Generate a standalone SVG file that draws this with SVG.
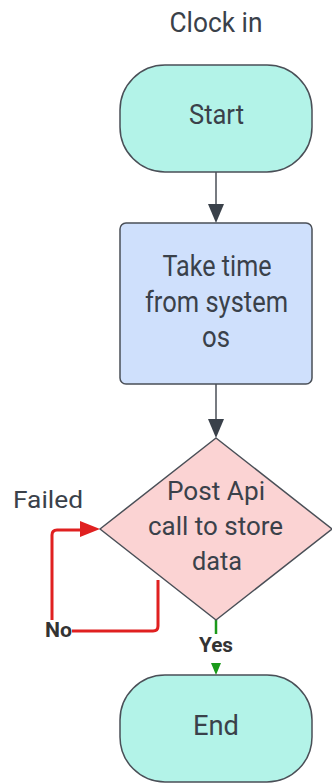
<svg xmlns="http://www.w3.org/2000/svg" width="332" height="783" viewBox="0 0 332 783">
<style>
.t{font-family:Roboto,"Liberation Sans",Arial,sans-serif;fill:#3a414a;text-anchor:middle}
.n{stroke:#4a4f57;stroke-width:1.5}
.b{font-family:Roboto,"Liberation Sans",Arial,sans-serif;font-weight:bold;fill:#333;font-size:20px;text-anchor:middle}
</style>
<rect width="332" height="783" fill="#fff"/>
<text class="t" x="216" y="32" font-size="28" textLength="93" lengthAdjust="spacingAndGlyphs">Clock in</text>
<g id="connectors" fill="none">
<line x1="216" y1="172" x2="216" y2="206" stroke="#4a4f57" stroke-width="1.5"/>
<path d="M208,204 L224,204 L216,223 z" fill="#3a414a"/>
<line x1="216" y1="384" x2="216" y2="420" stroke="#4a4f57" stroke-width="1.5"/>
<path d="M208,419 L224,419 L216,438 z" fill="#3a414a"/>
<path d="M158,580 L158,626 Q158,631 153,631 L72,631 M52,620 L52,535 Q52,530 57,530 L82,530" stroke="#e02020" stroke-width="3"/>
<path d="M80,521 L100,529 L80,537 z" fill="#e02020"/>
<line x1="216" y1="620" x2="216" y2="634" stroke="#1a9a1a" stroke-width="2.5"/>
<path d="M211,663 L221,663 L216,675 z" fill="#1a9a1a"/>
</g>
<g id="start">
<rect class="n" x="120" y="65" width="192" height="107" rx="45" fill="#b3f3e8"/>
<text class="t" x="216.5" y="124" font-size="27" textLength="55" lengthAdjust="spacingAndGlyphs">Start</text>
</g>
<g id="take-time">
<rect class="n" x="120" y="223" width="192" height="161" rx="6" fill="#cfe0fc"/>
<text class="t" x="217" y="276" font-size="29" textLength="109" lengthAdjust="spacingAndGlyphs">Take time</text>
<text class="t" x="216.5" y="312" font-size="29" textLength="143" lengthAdjust="spacingAndGlyphs">from system</text>
<text class="t" x="216" y="347" font-size="29" textLength="28" lengthAdjust="spacingAndGlyphs">os</text>
</g>
<g id="post-api">
<path class="n" d="M216,438 L332,529 L216,620 L100,529 z" fill="#fbd3d3" stroke-linejoin="round"/>
<text class="t" x="216" y="500" font-size="26" textLength="98" lengthAdjust="spacingAndGlyphs">Post Api</text>
<text class="t" x="215.5" y="535" font-size="26" textLength="135" lengthAdjust="spacingAndGlyphs">call to store</text>
<text class="t" x="217" y="570" font-size="26" textLength="50" lengthAdjust="spacingAndGlyphs">data</text>
</g>
<g id="end">
<rect class="n" x="120" y="675" width="192" height="107" rx="45" fill="#b3f3e8"/>
<text class="t" x="216" y="735" font-size="27" textLength="46" lengthAdjust="spacingAndGlyphs">End</text>
</g>
<text class="t" x="48" y="508" font-size="24" textLength="70" lengthAdjust="spacingAndGlyphs">Failed</text>
<text class="b" x="58.5" y="637" textLength="27" lengthAdjust="spacingAndGlyphs">No</text>
<text class="b" x="216" y="652" textLength="34" lengthAdjust="spacingAndGlyphs">Yes</text>
</svg>
